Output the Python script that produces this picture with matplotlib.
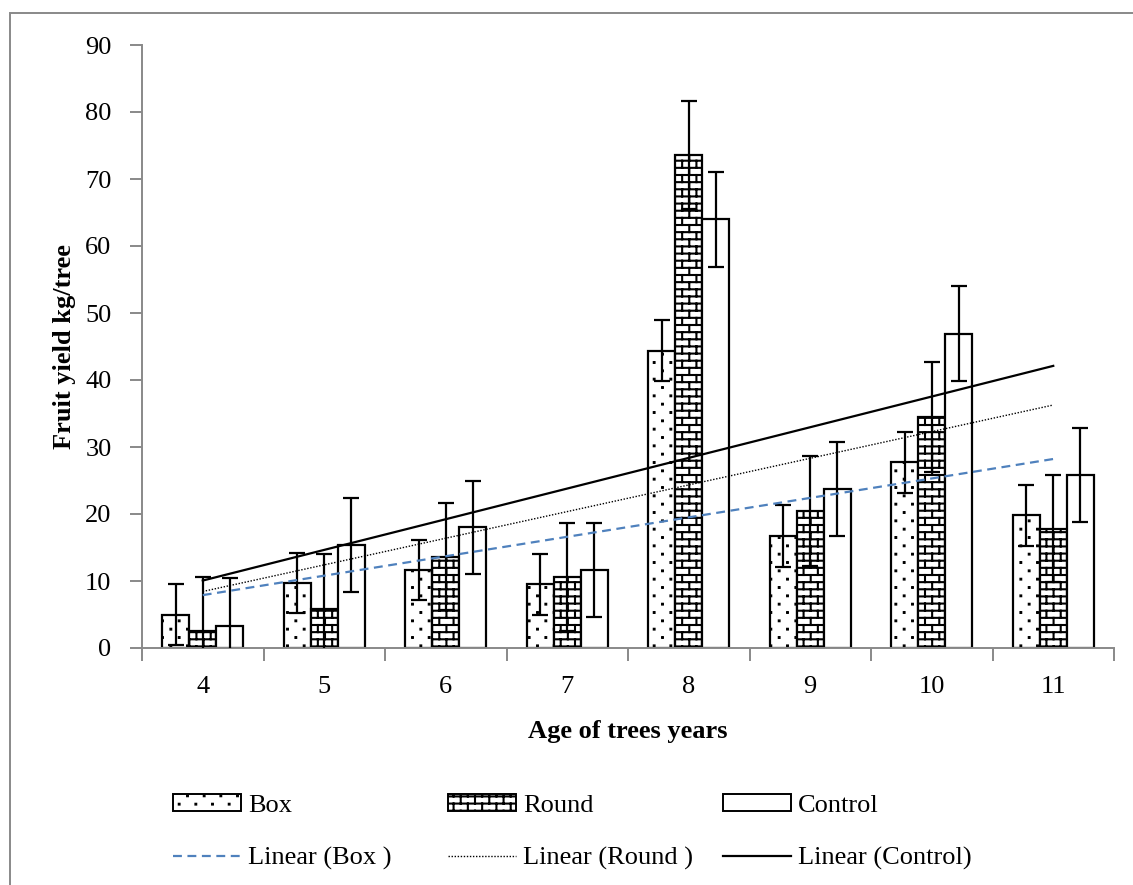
import warnings

import matplotlib

matplotlib.use("Agg")
import matplotlib.pyplot as plt
import numpy as np
from matplotlib import hatch as mhatch
from matplotlib.lines import Line2D
from matplotlib.patches import Patch, Rectangle
from matplotlib.path import Path

warnings.filterwarnings("ignore")

# fruit yield (kg/tree) by tree age
ages = ["4", "5", "6", "7", "8", "9", "10", "11"]
box_yield = [5.0, 9.7, 11.6, 9.5, 44.4, 16.7, 27.7, 19.8]
round_yield = [2.5, 5.8, 13.6, 10.6, 73.6, 20.4, 34.5, 17.8]
control_yield = [3.3, 15.4, 18.0, 11.6, 64.0, 23.7, 46.9, 25.8]
box_err = [4.6, 4.5, 4.5, 4.6, 4.6, 4.6, 4.5, 4.6]
round_err = [8.1, 8.2, 8.0, 8.1, 8.1, 8.2, 8.2, 8.0]
control_err = [7.2, 7.0, 7.0, 7.0, 7.1, 7.0, 7.1, 7.0]
series_names = ["Box", "Round", "Control"]
trend_names = ["Linear (Box )", "Linear (Round )", "Linear (Control)"]


class BrickHatch(mhatch.HatchPatternBase):
    """brick wall pattern, used for hatch letter 'b'"""

    rows = 14
    cols = 7

    def __init__(self, hatch, density):
        if "b" in hatch:
            self.num_vertices = 2 * self.rows + 2 * self.cols * (self.rows + 1)
        else:
            self.num_vertices = 0

    def set_vertices_and_codes(self, vertices, codes):
        nr, nc = self.rows, self.cols
        segs = []
        for r in range(nr):
            y = (r + 0.5) / nr
            segs.append(((0, y), (1, y)))
        for r in range(nr):
            shift = 0.25 + 0.5 * (r % 2)
            for k in range(nc):
                x = (k + shift) / nc
                if r == 0:
                    segs.append(((x, 0), (x, 0.5 / nr)))
                    segs.append(((x, (nr - 0.5) / nr), (x, 1)))
                else:
                    segs.append(((x, (r - 0.5) / nr), (x, (r + 0.5) / nr)))
        vertices[:] = np.array(segs, dtype=float).reshape(-1, 2)
        codes[0::2] = Path.MOVETO
        codes[1::2] = Path.LINETO


class SparseDotHatch(mhatch.HatchPatternBase):
    """sparse staggered dots (Excel 'dotted 10%'), hatch letter 'd'"""

    rows = 12
    cols = 6
    size = 0.004

    def __init__(self, hatch, density):
        self.num_vertices = 5 * self.rows * self.cols if "d" in hatch else 0

    def set_vertices_and_codes(self, vertices, codes):
        s = self.size
        square = np.array([[-s, -s], [s, -s], [s, s], [-s, s], [-s, -s]])
        pts = []
        for r in range(self.rows):
            y = (r + 0.5) / self.rows
            for k in range(self.cols):
                xc = (k + 0.25 + 0.5 * (r % 2)) / self.cols
                pts.append(square + [xc, y])
        vertices[:] = np.concatenate(pts)
        codes[:] = Path.LINETO
        codes[0::5] = Path.MOVETO
        codes[4::5] = Path.CLOSEPOLY


mhatch._hatch_types.extend([BrickHatch, SparseDotHatch])

plt.rcParams["font.family"] = ["Liberation Serif", "DejaVu Serif"]
plt.rcParams["hatch.color"] = "black"
plt.rcParams["hatch.linewidth"] = 1.5
FS = 19
AXIS_GREY = "#898989"

W, H = 1133, 885
fig = plt.figure(figsize=(W / 100, H / 100), dpi=100)
ax = fig.add_axes([142 / W, 1 - 648 / H, 972 / W, 603 / H])

x = np.arange(len(ages))
w = 0.222
hatches = ["d", "b", ""]
values = [box_yield, round_yield, control_yield]
errors = [box_err, round_err, control_err]

for j, (vals, errs, hatch) in enumerate(zip(values, errors, hatches)):
    xpos = x + (j - 1) * w
    ax.bar(
        xpos, vals, width=w, color="white", edgecolor="black",
        linewidth=1.6, hatch=hatch, zorder=2,
    )
    ax.errorbar(
        xpos, vals, yerr=errs, fmt="none", ecolor="black",
        elinewidth=1.6, capsize=6, capthick=1.6, zorder=3,
    )

# linear trend lines (Excel style, over the category index)
trend_styles = [
    dict(color="#4F81BD", linestyle=(0, (4, 2.5)), linewidth=1.6),
    dict(color="black", linestyle=(0, (1, 1.2)), linewidth=1.0),
    dict(color="black", linestyle="-", linewidth=1.6),
]
for vals, style in zip(values, trend_styles):
    k, b = np.polyfit(x + 1, vals, 1)
    ends = np.array([x[0], x[-1]])
    ax.plot(ends, k * (ends + 1) + b, zorder=4, **style)

ax.set_xlim(-0.5, len(ages) - 0.5)
ax.set_ylim(0, 90)
ax.set_yticks(np.arange(0, 91, 10))
ax.set_xticks(np.arange(-0.5, len(ages), 1.0))
ax.set_xticklabels([])
ax.set_xticks(x, minor=True)
ax.set_xticklabels(ages, minor=True)
ax.tick_params(axis="x", which="major", length=9, width=1.4, color=AXIS_GREY)
ax.tick_params(axis="x", which="minor", length=0, pad=20, labelsize=FS)
ax.tick_params(axis="y", length=9, width=1.4, color=AXIS_GREY, pad=13, labelsize=FS)

for side in ["top", "right"]:
    ax.spines[side].set_visible(False)
for side in ["left", "bottom"]:
    ax.spines[side].set_color(AXIS_GREY)
    ax.spines[side].set_linewidth(1.4)

ax.set_ylabel("Fruit yield kg/tree", fontsize=FS, fontweight="bold")
ax.yaxis.set_label_coords(-0.080, 0.5)
ax.yaxis.label.set_va("center")
ax.set_xlabel("Age of trees years", fontsize=FS, fontweight="bold")
ax.xaxis.set_label_coords(0.5, -0.139)
ax.xaxis.label.set_va("center")

# legend: one small legend per column so the columns sit where they do in Excel
col_x = [173, 448, 723]
for j in range(3):
    handles = [
        Patch(facecolor="white", edgecolor="black", linewidth=1.4, hatch=hatches[j]),
        Line2D([], [], **trend_styles[j]),
    ]
    fig.legend(
        handles, [series_names[j], trend_names[j]],
        loc="upper left", bbox_to_anchor=(col_x[j] / W, 1 - 794 / H),
        frameon=False, fontsize=FS, borderpad=0, borderaxespad=0,
        handlelength=2.58, handleheight=0.64, handletextpad=0.27,
        labelspacing=1.12,
    )

# chart area border (only top and left edges fall inside the image)
fig.add_artist(Rectangle(
    (10 / W, -0.1), 1.2, 1 - 13 / H + 0.1, transform=fig.transFigure,
    fill=False, edgecolor=AXIS_GREY, linewidth=1.4, clip_on=False,
))

fig.savefig("out.png", dpi=100)
